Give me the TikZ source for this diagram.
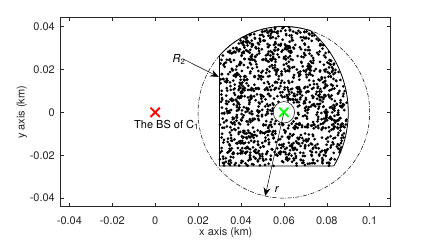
\documentclass[tikz,border=0pt]{standalone}
\usepackage{fontspec}
\setmainfont{TeX Gyre Heros}
\usetikzlibrary{arrows.meta,shapes.misc}
\definecolor{axgray}{rgb}{0.15,0.15,0.15}
\definecolor{mgreen}{rgb}{0,1,0}
\begin{document}
\begin{tikzpicture}[x=2.145pt,y=2.145pt,
  every node/.style={font=\fontsize{11pt}{13pt}\selectfont, inner sep=0pt},
  axline/.style={draw=axgray, line width=0.5pt},
  ticklab/.style={text=axgray},
  boundary/.style={line width=0.8pt},
  dashcirc/.style={line width=0.5pt, dash pattern=on 4pt off 1.5pt on 0.7pt off 1.5pt},
  markx/.style={cross out, line width=1.8pt, minimum size=7.5pt},
  ptr/.style={-{Stealth[length=8.5pt,width=7pt,inset=3pt]}, line width=0.5pt}
]
\useasboundingbox (-72.35,-60) rectangle (130.9,52.35);
\fill[white] (-72.35,-60) rectangle (130.9,52.35);

% random user points
\pgfmathsetseed{2024}
\foreach \i in {1,...,1550}{%
  \pgfmathsetmacro\px{30+60*rnd}%
  \pgfmathsetmacro\py{-25+65*rnd}%
  \pgfmathsetmacro\da{(\px-60)*(\px-60)+(\py)*(\py)}%
  \pgfmathsetmacro\db{(\px-40)*(\px-40)+(\py)*(\py)}%
  \pgfmathsetmacro\ok{((\da<1580)&&(\db<2470)&&(\da>30))?1:0}%
  \ifdim\ok pt>0.5pt \fill (\px,\py) circle[radius=1.5pt];\fi
}

% region boundary
\draw[boundary] (30,-25) -- (30,26.458)
  arc[start angle=138.59, end angle=71.79, radius=40]
  arc[start angle=49.46, end angle=-30, radius=50] -- cycle;
\draw[dashcirc] (60,0) circle[radius=40];
\draw[line width=0.5pt] (60,0) circle[radius=5];

% axes
\draw[axline] (-44.05,-44.0) rectangle (109.8,44.3);
\foreach \t/\l in {-40/-0.04,-20/-0.02,0/0,20/0.02,40/0.04,60/0.06,80/0.08,100/0.1}{
  \draw[axline] (\t,-44.0) -- ++(0,1.55);
  \draw[axline] (\t,44.3) -- ++(0,-1.55);
  \node[ticklab, anchor=base] (xt\t) at (\t,-52.2) {\l};
}
\foreach \t/\l in {-40/-0.04,-20/-0.02,0/0,20/0.02,40/0.04}{
  \draw[axline] (-44.05,\t) -- ++(1.55,0);
  \draw[axline] (109.8,\t) -- ++(-1.55,0);
  \node[ticklab, anchor=east] (yt\t) at (-46.7,\t) {\l};
}
\node[ticklab, anchor=base] (xlab) at (32.9,-57.2) {x axis (km)};
\node[ticklab, rotate=90] (ylab) at (-62.2,0) {y axis (km)};

% base stations
\node[markx, draw=red] (bs1) at (0,0) {};
\node[anchor=base west] (bslab) at (-9.9,-7.46) {The BS of C\textsubscript{1}};

% arrows and labels
\coordinate (r2s) at (13.1,24.8);
\coordinate (r2t) at (29.6,16.5);
\draw[ptr] (r2s) -- (r2t);
\node[anchor=base west] (r2lab) at (8.0,23.3) {\textit{R}\textsubscript{2}};

\coordinate (rt) at (51.27,-39.04);
\draw[ptr] (60,0) -- (rt);
\node[anchor=base west] (rlab) at (55.7,-37.5) {\textit{r}};

\node[markx, draw=mgreen] (bs2) at (60,0) {};
\end{tikzpicture}
\end{document}
